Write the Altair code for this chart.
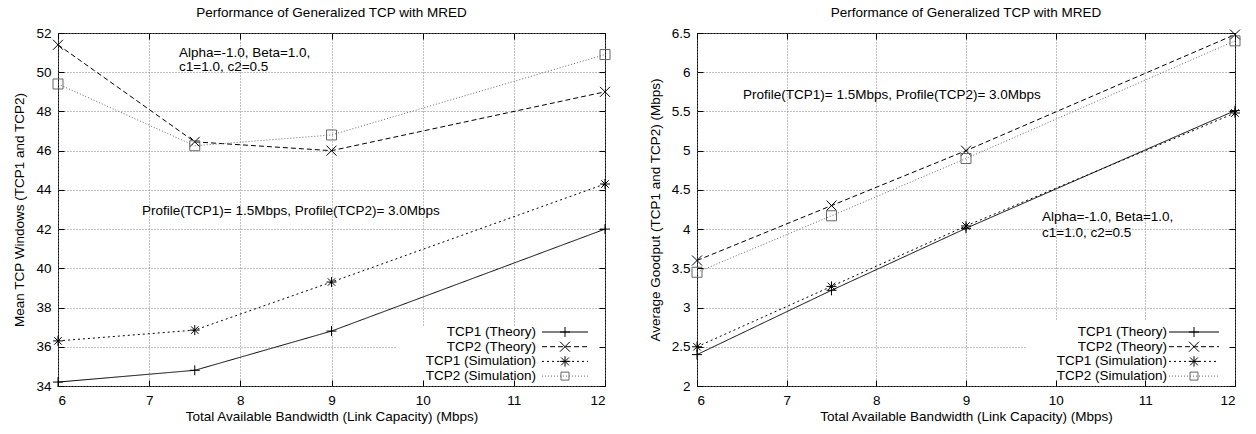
import altair as alt
import pandas as pd

# ---------------- data ----------------
bandwidth = [6, 7.5, 9, 12]
series_names = ["TCP1 (Theory)", "TCP2 (Theory)", "TCP1 (Simulation)", "TCP2 (Simulation)"]

win_tcp1_theory = [34.2, 34.8, 36.8, 42.0]
win_tcp2_theory = [51.4, 46.45, 46.0, 49.0]
win_tcp1_sim = [36.3, 36.85, 39.3, 44.3]
win_tcp2_sim = [49.4, 46.25, 46.8, 50.9]

gp_tcp1_theory = [2.4, 3.22, 4.01, 5.51]
gp_tcp2_theory = [3.6, 4.3, 5.0, 6.48]
gp_tcp1_sim = [2.5, 3.27, 4.04, 5.48]
gp_tcp2_sim = [3.45, 4.17, 4.9, 6.4]

x_ticks = [6, 7, 8, 9, 10, 11, 12]
win_ticks = [34, 36, 38, 40, 42, 44, 46, 48, 50, 52]
gp_ticks = [2, 2.5, 3, 3.5, 4, 4.5, 5, 5.5, 6, 6.5]

title_text = "Performance of Generalized TCP with MRED"
x_title = "Total Available Bandwidth (Link Capacity) (Mbps)"
win_title = "Mean TCP Windows (TCP1 and TCP2)"
gp_title = "Average Goodput (TCP1 and TCP2) (Mbps)"
anno_params = ["Alpha=-1.0, Beta=1.0,", "c1=1.0, c2=0.5"]
anno_profile = "Profile(TCP1)= 1.5Mbps, Profile(TCP2)= 3.0Mbps"

# ---------------- styles ----------------
FONT = "Liberation Sans"
FS = 13.5
W_L, W_R, H = 547, 538, 353
dashes = [[1, 0], [5, 3], [2, 3], [1, 2]]
colors = ["#000000", "#000000", "#000000", "#666666"]
PLUS = "M-1,0L1,0M0,-1L0,1"
CROSS = "M-1,-1L1,1M-1,1L1,-1"
STAR = "M-1,0L1,0M0,-1L0,1M-0.75,-0.75L0.75,0.75M-0.75,0.75L0.75,-0.75"
shapes = [PLUS, CROSS, STAR, "square"]
sizes = [100, 100, 110, 64]
GRID_COLOR = "#808080"


def panel(values_list, ydom, yticks, ytitle, width, annos, leg, mask):
    rows = []
    for name, vals in zip(series_names, values_list):
        for xv, yv in zip(bandwidth, vals):
            rows.append({"series": name, "x": xv, "y": yv})
    df = pd.DataFrame(rows)

    xs = alt.Scale(domain=[6, 12], nice=False, zero=False)
    ys = alt.Scale(domain=ydom, nice=False, zero=False)
    cs = alt.Scale(domain=series_names, range=colors)
    ds = alt.Scale(domain=series_names, range=dashes)
    ss = alt.Scale(domain=series_names, range=shapes)
    zs = alt.Scale(domain=series_names, range=sizes)

    mask_layer = alt.Chart(pd.DataFrame({"a": [0]})).mark_rect(color="white").encode(
        x=alt.value(mask[0]), x2=alt.value(mask[1]), y=alt.value(mask[2]), y2=alt.value(mask[3])
    )

    lines = alt.Chart(df).mark_line(strokeWidth=1).encode(
        x=alt.X("x:Q", scale=xs, axis=alt.Axis(
            values=x_ticks, grid=True, ticks=False, tickSize=0, domain=False,
            labelPadding=7, title=x_title, titlePadding=3, format="~g",
            gridDash=[1, 2], gridColor=GRID_COLOR, gridOpacity=1, zindex=0)),
        y=alt.Y("y:Q", scale=ys, axis=alt.Axis(
            values=yticks, grid=True, ticks=False, tickSize=0, domain=False,
            labelPadding=7, title=ytitle, titlePadding=9, format="~g",
            gridDash=[1, 2], gridColor=GRID_COLOR, gridOpacity=1, zindex=0)),
        color=alt.Color("series:N", scale=cs, legend=None),
        strokeDash=alt.StrokeDash("series:N", scale=ds, legend=None),
    )

    points = alt.Chart(df).mark_point(filled=False, strokeWidth=1, opacity=1).encode(
        x=alt.X("x:Q", scale=xs, axis=None),
        y=alt.Y("y:Q", scale=ys, axis=None),
        color=alt.Color("series:N", scale=cs, legend=None),
        shape=alt.Shape("series:N", scale=ss, legend=None),
        size=alt.Size("series:N", scale=zs, legend=None),
    )

    ticks_bl = alt.Chart(df).mark_point(opacity=0).encode(
        x=alt.X("x:Q", scale=xs, axis=alt.Axis(
            values=x_ticks, orient="bottom", labels=False, title=None, grid=False,
            domain=False, ticks=True, tickSize=6, offset=-6, tickColor="black", zindex=1)),
        y=alt.Y("y:Q", scale=ys, axis=alt.Axis(
            values=yticks, orient="left", labels=False, title=None, grid=False,
            domain=False, ticks=True, tickSize=6, offset=-6, tickColor="black", zindex=1)),
    )
    ticks_tr = alt.Chart(df).mark_point(opacity=0).encode(
        x=alt.X("x:Q", scale=xs, axis=alt.Axis(
            values=x_ticks, orient="top", labels=False, title=None, grid=False,
            domain=False, ticks=True, tickSize=6, offset=-6, tickColor="black", zindex=1)),
        y=alt.Y("y:Q", scale=ys, axis=alt.Axis(
            values=yticks, orient="right", labels=False, title=None, grid=False,
            domain=False, ticks=True, tickSize=6, offset=-6, tickColor="black", zindex=1)),
    )

    layers = [mask_layer, lines, points, ticks_bl, ticks_tr]

    one = pd.DataFrame({"a": [0]})
    for txt, px, py in annos:
        layers.append(alt.Chart(one).mark_text(
            align="left", baseline="middle", font=FONT, fontSize=FS, color="black", text=txt
        ).encode(x=alt.value(px), y=alt.value(py)))

    tx, lx1, lx2, mx, ys0, dy = leg
    for i, name in enumerate(series_names):
        yy = ys0 + i * dy
        layers.append(alt.Chart(one).mark_text(
            align="right", baseline="middle", font=FONT, fontSize=FS, color="black", text=name
        ).encode(x=alt.value(tx), y=alt.value(yy)))
        layers.append(alt.Chart(one).mark_rule(
            strokeWidth=1, strokeDash=dashes[i], color=colors[i]
        ).encode(x=alt.value(lx1), x2=alt.value(lx2), y=alt.value(yy)))
        layers.append(alt.Chart(one).mark_point(
            shape=shapes[i], size=sizes[i], filled=False, strokeWidth=1, opacity=1, color=colors[i]
        ).encode(x=alt.value(mx), y=alt.value(yy)))

    return alt.layer(*layers).resolve_axis(x="independent", y="independent").properties(
        width=width, height=H,
        title=alt.TitleParams(title_text, font=FONT, fontSize=FS, fontWeight="normal",
                              anchor="middle", offset=7, color="black"),
    )


left = panel(
    [win_tcp1_theory, win_tcp2_theory, win_tcp1_sim, win_tcp2_sim],
    [34, 52], win_ticks, win_title, W_L,
    [(anno_params[0], 121, 20), (anno_params[1], 121, 34), (anno_profile, 84, 178)],
    (478, 484, 530, 507, 299, 14.7),
    (339, W_L - 1, 293, H - 1),
)

right = panel(
    [gp_tcp1_theory, gp_tcp2_theory, gp_tcp1_sim, gp_tcp2_sim],
    [2, 6.5], gp_ticks, gp_title, W_R,
    [(anno_profile, 46, 62), (anno_params[0], 345, 184), (anno_params[1], 345, 200)],
    (470, 472, 522, 497, 299, 14.7),
    (329, W_R - 1, 288, H - 1),
)

chart = alt.hconcat(left, right, spacing=34).properties(
    padding={"left": 12, "top": 5, "right": 5, "bottom": 5}
).configure_view(stroke="black", strokeWidth=1).configure_axis(
    labelFont=FONT, titleFont=FONT, labelFontSize=FS, titleFontSize=FS,
    titleFontWeight="normal", labelColor="black", titleColor="black",
)

chart.save("out.html", embed_options={"renderer": "svg", "actions": False})
